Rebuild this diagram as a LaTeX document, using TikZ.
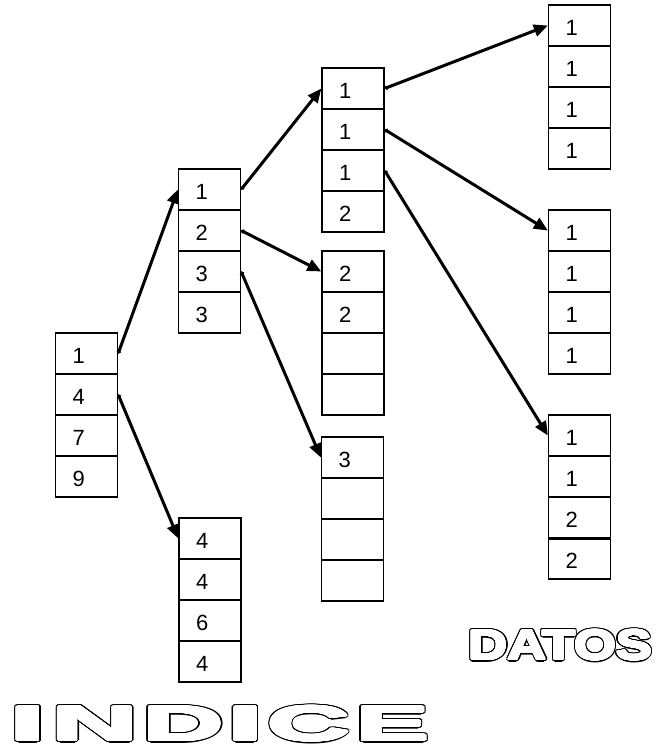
\documentclass[tikz,border=0pt]{standalone}
\usepackage{graphicx}
\usepackage{fontspec}
\setmainfont{Liberation Sans}
\usetikzlibrary{arrows.meta}

\newcommand\cellfont{\fontsize{22}{22}\selectfont}

\tikzset{
  cell/.style={draw=black, line width=1.3pt, minimum width=62pt, minimum height=41pt,
    inner xsep=17pt, inner ysep=0pt, text width=28pt, align=left, font=\cellfont,
    text height=19.8pt, text depth=0pt},
  link/.style={line width=3pt, {Circle[length=4pt]}-{Triangle[length=14pt,width=12pt]}},
  glyph/.style={anchor=base, inner sep=0pt, outer sep=0pt},
}

% a column of four cells: name, centre x, top y, four entries
\newcommand\stack[7]{%
  \node[cell] (#1-1) at (#2,#3+20.5) {#4};
  \node[cell] (#1-2) at (#2,#3+61.5) {#5};
  \node[cell] (#1-3) at (#2,#3+102.5) {#6};
  \node[cell] (#1-4) at (#2,#3+143.5) {#7};
}

% hollow block lettering: name, x, baseline y, font size, x stretch, x growth, text
\newcommand\hollow[7]{%
  \foreach \t in {0,15,...,345}
    \node[glyph, text=black] (#1-k\t) at ([shift={(\t:#6+1.4 and 2.4)}]#2,#3)
      {\fontsize{#4}{#4}\selectfont\bfseries\scalebox{#5}[1]{#7}};
  \foreach \t in {0,15,...,345}
    \node[glyph, text=white] (#1-w\t) at ([shift={(\t:#6 and 1)}]#2,#3)
      {\fontsize{#4}{#4}\selectfont\bfseries\scalebox{#5}[1]{#7}};
  \foreach \t in {0,30,...,330}
    \node[glyph, text=white] (#1-h\t) at ([shift={(\t:#6/2 and 0.5)}]#2,#3)
      {\fontsize{#4}{#4}\selectfont\bfseries\scalebox{#5}[1]{#7}};
  \node[glyph, text=white] (#1) at (#2,#3)
    {\fontsize{#4}{#4}\selectfont\bfseries\scalebox{#5}[1]{#7}};
}

\begin{document}
\begin{tikzpicture}[x=1pt, y=-1pt]
\useasboundingbox (0,0) rectangle (656,746);

% index levels
\stack{a}{86.5}{333}{1}{4}{7}{9}
\stack{b}{209.5}{169}{1}{2}{3}{3}
\stack{c}{210}{518}{4}{4}{6}{4}
\stack{d}{353}{68}{1}{1}{1}{2}
\stack{e}{353}{251}{2}{2}{}{}
\stack{f}{352.5}{437}{3}{}{}{}

% data pages
\stack{g}{579.5}{5}{1}{1}{1}{1}
\stack{h}{579.5}{210}{1}{1}{1}{1}
\stack{i}{579.5}{415}{1}{1}{2}{2}
\draw[line width=2.6pt] (i-3.south west) -- (i-3.south east);

% pointers
\draw[link] (a-1.east) -- (b-1.west);
\draw[link] (a-2.east) -- (c-1.west);
\draw[link] (b-1.east) -- (d-1.west);
\draw[link] (b-2.east) -- (e-1.west);
\draw[link] (b-3.east) -- (f-1.west);
\draw[link] (d-1.east) -- (g-1.west);
\draw[link] (d-2.east) -- (h-1.west);
\draw[link] (d-3.east) -- (i-1.west);

% titles
\hollow{datos}{560.5}{659.6}{42}{1.28}{1}{DATOS}
\hollow{ind1}{28}{740.6}{49}{2.6}{2.45}{I}
\hollow{ind2}{95}{740.6}{49}{2.42}{2.45}{N}
\hollow{ind3}{183.5}{740.6}{49}{2.26}{2.45}{D}
\hollow{ind4}{245.5}{740.6}{49}{2.6}{2.45}{I}
\hollow{ind5}{309}{740.6}{49}{2.31}{2.45}{C}
\hollow{ind6}{392.5}{740.6}{49}{2.19}{2.45}{E}
\end{tikzpicture}
\end{document}
